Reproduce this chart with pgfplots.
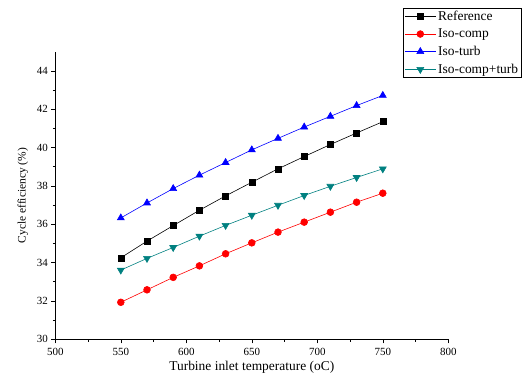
\documentclass[border=0pt]{standalone}
\usepackage{pgfplots}
\pgfplotsset{compat=1.18}
\usepackage{fontspec}
\setmainfont{Liberation Serif}
\definecolor{tealc}{RGB}{0,128,128}
\begin{document}
\begin{tikzpicture}
\begin{axis}[
  name=ax,
  scale only axis,
  width=393bp, height=287.6bp,
  xmin=500, xmax=800, ymin=30, ymax=45,
  xtick={500,550,...,800},
  ytick={30,32,...,44},
  minor x tick num=1,
  minor y tick num=1,
  axis x line*=bottom, axis y line*=left,
  tick align=outside,
  major tick length=4bp, minor tick length=2.5bp,
  tick style={black, line width=0.6pt},
  axis line style={line width=0.6pt},
  /pgf/number format/assume math mode=true,
  /pgf/number format/1000 sep={},
  ticklabel style={font=\fontsize{11}{12}\selectfont},
  xticklabel style={yshift=-1bp},
  xlabel={Turbine inlet temperature (oC)},
  ylabel={Cycle efficiency (\%)},
  xlabel style={font=\fontsize{13.5}{15}\selectfont, yshift=1bp},
  ylabel style={font=\fontsize{11.5}{13}\selectfont, yshift=2bp},
  legend style={at={(0.881,1.159)}, anchor=north west, xshift=2bp, yshift=-2bp, draw=black, line width=0.6pt,
    font=\fontsize{13.5}{15}\selectfont, row sep=3pt, inner xsep=1pt, inner ysep=1pt, outer sep=0pt},
  legend cell align=left,
  legend image code/.code={\draw[mark repeat=2,mark phase=2] plot coordinates {(0bp,0bp)(15.5bp,0bp)(31bp,0bp)};},
  every axis plot/.append style={line width=0.6pt},
]
\addplot[black, mark=square*, mark size=3bp, mark options={solid}] coordinates {
(550,34.25)(570,35.12)(590,35.93)(610,36.73)(630,37.48)(650,38.19)(670,38.89)(690,39.53)(710,40.16)(730,40.76)(750,41.35)};
\addlegendentry{Reference}
\addplot[red, mark=*, mark size=3.4bp] coordinates {
(550,31.93)(570,32.58)(590,33.23)(610,33.83)(630,34.46)(650,35.03)(670,35.59)(690,36.11)(710,36.63)(730,37.15)(750,37.62)};
\addlegendentry{Iso-comp}
\addplot[blue, mark=triangle*, mark size=4bp] coordinates {
(550,36.33)(570,37.11)(590,37.86)(610,38.56)(630,39.22)(650,39.88)(670,40.48)(690,41.07)(710,41.63)(730,42.19)(750,42.72)};
\addlegendentry{Iso-turb}
\addplot[tealc, mark=triangle*, mark size=4bp, mark options={rotate=180}] coordinates {
(550,33.61)(570,34.22)(590,34.79)(610,35.38)(630,35.94)(650,36.47)(670,36.99)(690,37.50)(710,37.98)(730,38.44)(750,38.89)};
\addlegendentry{Iso-comp+turb}
\end{axis}
\path[use as bounding box] ([xshift=-55.3bp,yshift=-47.7bp]ax.south west) rectangle ++(528bp,387bp);
\end{tikzpicture}
\end{document}
